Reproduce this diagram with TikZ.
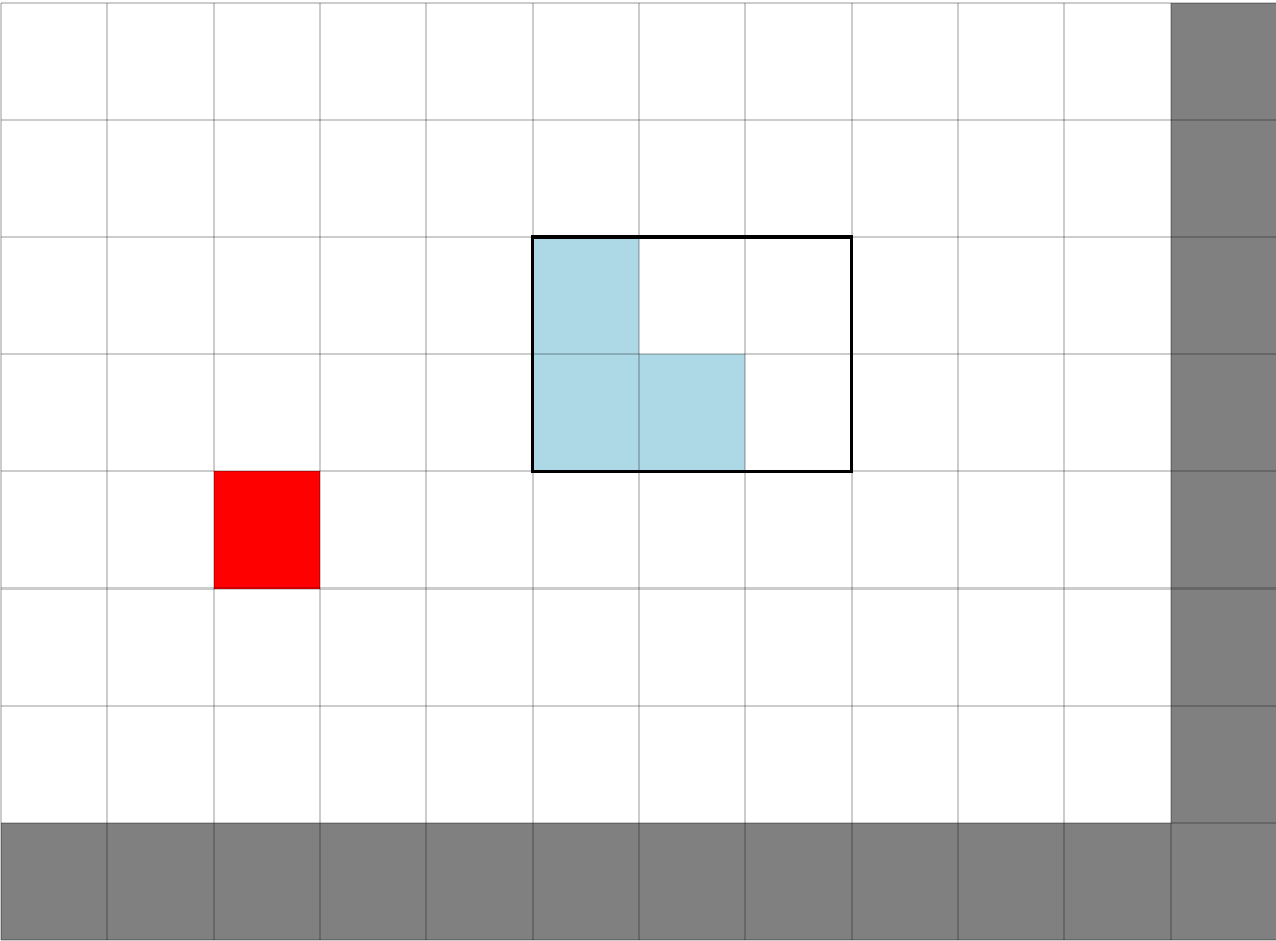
\documentclass[tikz,border=0pt]{standalone}
\definecolor{wallgray}{HTML}{808080}
\definecolor{cellblue}{HTML}{ADD8E6}
\definecolor{cellred}{HTML}{FF0000}
\tikzset{
  wall/.style={fill=wallgray},
  piece/.style={fill=cellblue},
  target/.style={fill=cellred},
  gridline/.style={draw=black, draw opacity=0.2, line width=0.6pt},
  frame/.style={draw=black, line width=0.9pt}
}
\begin{document}
\begin{tikzpicture}
\useasboundingbox (0,0) rectangle (12.76,9.40);
\begin{scope}[shift={(0.01,0)}, x={(1.0633cm,0)}, y={(0,1.1716cm)}]
  % walls
  \path[wall] (0,0) rectangle (12,1);
  \path[wall] (11,0) rectangle (12,8);
  % target
  \path[target] (2,3) rectangle (3,4);
  % piece
  \path[piece] (5,4) rectangle (6,6);
  \path[piece] (6,4) rectangle (7,5);
  % grid
  \foreach \i in {0,...,12} \draw[gridline] (\i,0) -- (\i,8);
  \foreach \j in {0,...,8} \draw[gridline] (0,\j) -- (12,\j);
  % frame
  \draw[frame] (5,4) rectangle (8,6);
\end{scope}
\end{tikzpicture}
\end{document}
